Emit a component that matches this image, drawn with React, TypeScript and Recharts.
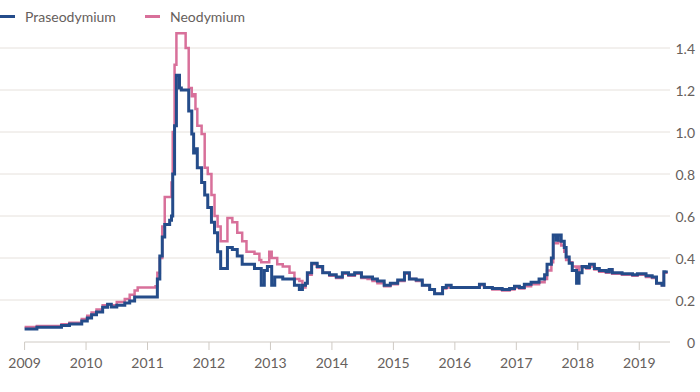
import { LineChart, Line, XAxis, YAxis, CartesianGrid, ReferenceLine } from 'recharts';

// Weekly prices (fractional years)
const years = [
  2009.0, 2009.2, 2009.49, 2009.6, 2009.73, 2009.93, 2010.02, 2010.09, 2010.17, 2010.27,
  2010.35, 2010.41, 2010.5, 2010.63, 2010.71, 2010.79, 2010.84, 2011.13, 2011.16, 2011.2,
  2011.24, 2011.28, 2011.36, 2011.39, 2011.41, 2011.44, 2011.47, 2011.52, 2011.55, 2011.62,
  2011.67, 2011.72, 2011.75, 2011.78, 2011.81, 2011.88, 2011.93, 2011.98, 2012.04, 2012.09,
  2012.14, 2012.19, 2012.25, 2012.3, 2012.38, 2012.46, 2012.54, 2012.61, 2012.74, 2012.82,
  2012.85, 2012.9, 2012.95, 2012.98, 2013.02, 2013.07, 2013.11, 2013.2, 2013.31, 2013.39,
  2013.47, 2013.52, 2013.57, 2013.6, 2013.67, 2013.76, 2013.85, 2013.96, 2014.07, 2014.17,
  2014.27, 2014.37, 2014.48, 2014.58, 2014.66, 2014.74, 2014.85, 2014.95, 2015.07, 2015.18,
  2015.26, 2015.37, 2015.47, 2015.59, 2015.67, 2015.75, 2015.8, 2015.86, 2015.94, 2016.12,
  2016.28, 2016.4, 2016.48, 2016.61, 2016.77, 2016.89, 2016.97, 2017.05, 2017.13, 2017.24,
  2017.37, 2017.46, 2017.5, 2017.57, 2017.6, 2017.65, 2017.68, 2017.73, 2017.78, 2017.81,
  2017.86, 2017.91, 2017.98, 2018.02, 2018.07, 2018.14, 2018.19, 2018.27, 2018.35, 2018.46,
  2018.51, 2018.56, 2018.72, 2018.89, 2018.97, 2019.11, 2019.21, 2019.28, 2019.37, 2019.4,
  2019.44,
];

const praseodymium = [
  0.062, 0.07, 0.07, 0.078, 0.086, 0.1, 0.114, 0.13, 0.143, 0.165,
  0.18, 0.167, 0.175, 0.186, 0.195, 0.214, 0.214, 0.214, 0.3, 0.41,
  0.5, 0.56, 0.58, 0.6, 0.8, 1.03, 1.27, 1.21, 1.2, 1.2,
  1.1, 0.99, 0.9, 0.92, 0.83, 0.76, 0.7, 0.64, 0.57, 0.52,
  0.43, 0.35, 0.35, 0.45, 0.44, 0.41, 0.37, 0.37, 0.35, 0.35,
  0.27, 0.34, 0.36, 0.36, 0.27, 0.31, 0.31, 0.3, 0.3, 0.27,
  0.25, 0.27, 0.28, 0.33, 0.375, 0.36, 0.33, 0.32, 0.31, 0.33,
  0.32, 0.33, 0.31, 0.31, 0.3, 0.29, 0.27, 0.28, 0.295, 0.33,
  0.3, 0.295, 0.27, 0.25, 0.23, 0.23, 0.26, 0.27, 0.26, 0.26,
  0.26, 0.275, 0.26, 0.255, 0.25, 0.255, 0.265, 0.26, 0.275, 0.285,
  0.3, 0.32, 0.37, 0.4, 0.51, 0.485, 0.51, 0.48, 0.45, 0.405,
  0.375, 0.34, 0.28, 0.33, 0.36, 0.355, 0.37, 0.35, 0.34, 0.335,
  0.345, 0.33, 0.325, 0.32, 0.325, 0.315, 0.31, 0.28, 0.27, 0.335,
  0.34,
];

const neodymium = [
  0.072, 0.076, 0.076, 0.085, 0.092, 0.11, 0.125, 0.14, 0.155, 0.175,
  0.18, 0.175, 0.19, 0.205, 0.225, 0.245, 0.26, 0.265, 0.33, 0.4,
  0.55, 0.69, 0.69, 0.76, 1.0, 1.32, 1.47, 1.47, 1.47, 1.4,
  1.21, 1.17, 1.18, 1.11, 1.03, 0.99, 0.83, 0.8, 0.7, 0.6,
  0.55, 0.48, 0.48, 0.59, 0.57, 0.52, 0.48, 0.43, 0.42, 0.39,
  0.38, 0.38, 0.38, 0.43, 0.4, 0.4, 0.37, 0.36, 0.33, 0.3,
  0.29, 0.26, 0.28, 0.32, 0.37, 0.355, 0.33, 0.315, 0.305, 0.325,
  0.315, 0.325, 0.305, 0.3, 0.29, 0.28, 0.265, 0.275, 0.29, 0.325,
  0.3, 0.29, 0.27, 0.25, 0.23, 0.23, 0.255, 0.26, 0.26, 0.26,
  0.26, 0.27, 0.26, 0.25, 0.245, 0.25, 0.26, 0.255, 0.265, 0.275,
  0.285, 0.3, 0.34, 0.38, 0.47, 0.47, 0.48, 0.46, 0.43, 0.39,
  0.38, 0.36, 0.33, 0.36, 0.355, 0.35, 0.36, 0.345, 0.335, 0.33,
  0.345, 0.325, 0.32, 0.315, 0.32, 0.31, 0.305, 0.28, 0.27, 0.33,
  0.335,
];

const yearTicks = [2009, 2010, 2011, 2012, 2013, 2014, 2015, 2016, 2017, 2018, 2019];
const valueTicks = [0, 0.2, 0.4, 0.6, 0.8, 1.0, 1.2, 1.4];

const rows = years.map((year, i) => ({
  year,
  praseodymium: praseodymium[i],
  neodymium: neodymium[i],
}));

const W = 700;
const H = 392;
const BLUE = '#244c8a';
const PINK = '#d8709a';
const TEXT = '#66605c';
const GRID = '#e6e1dc';
const FONT = 'Lato, "Open Sans", sans-serif';

function ValueTick({ y, payload }: any) {
  return (
    <text x={W - 5} y={y} textAnchor="end" dominantBaseline="central" fill={TEXT} fontSize={14} fontFamily={FONT}>
      {payload.value === 0 ? '0' : payload.value.toFixed(1)}
    </text>
  );
}

function LegendItem({ color, label, left }: { color: string; label: string; left: number }) {
  return (
    <div style={{ position: 'absolute', left, top: 8, display: 'flex', alignItems: 'center' }}>
      <span style={{ width: 15, height: 3, background: color, marginRight: 10 }} />
      <span style={{ fontSize: 14, color: TEXT, fontFamily: FONT }}>{label}</span>
    </div>
  );
}

export default function App() {
  return (
    <div style={{ position: 'relative', width: W, height: H, background: '#fff' }}>
      <style>{'body{margin:0}'}</style>
      <LegendItem color={BLUE} label="Praseodymium" left={0} />
      <LegendItem color={PINK} label="Neodymium" left={145} />
      <LineChart width={W} height={H} data={rows} margin={{ top: 27, right: 0, left: 0, bottom: 20 }}>
        <CartesianGrid vertical={false} stroke={GRID} horizontalValues={valueTicks.slice(1)} />
        <XAxis
          dataKey="year"
          type="number"
          domain={[2008.6, 2019.5]}
          ticks={yearTicks}
          allowDataOverflow
          axisLine={false}
          tickLine={{ stroke: '#cfcac4' }}
          tickSize={8}
          tickMargin={8}
          height={30}
          tick={{ fill: TEXT, fontSize: 14, fontFamily: FONT }}
        />
        <YAxis
          orientation="right"
          width={30}
          domain={[0, 1.5]}
          ticks={valueTicks}
          axisLine={false}
          tickLine={false}
          tick={<ValueTick />}
        />
        <ReferenceLine
          segment={[{ x: 2009, y: 0 }, { x: 2019.5, y: 0 }]}
          stroke="#cfcac4"
          strokeWidth={1}
        />
        <Line
          type="stepAfter"
          dataKey="neodymium"
          stroke={PINK}
          strokeWidth={2.5}
          dot={false}
          isAnimationActive={false}
        />
        <Line
          type="stepAfter"
          dataKey="praseodymium"
          stroke={BLUE}
          strokeWidth={3}
          dot={false}
          isAnimationActive={false}
        />
      </LineChart>
    </div>
  );
}
